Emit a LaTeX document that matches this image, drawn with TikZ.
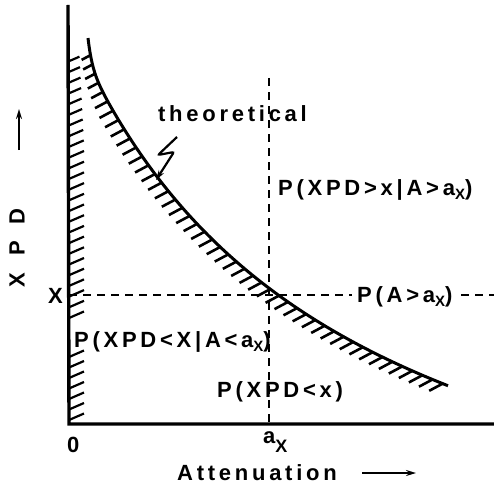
\documentclass[tikz,border=0pt]{standalone}
\usepackage{fontspec}
\setmainfont[LetterSpace=17]{Liberation Sans}
\usetikzlibrary{arrows.meta}
\newcommand{\subX}{\raisebox{-4pt}{\fontsize{15}{15}\selectfont X}}
\pgfmathdeclarefunction{cy}{1}{\pgfmathparse{638.6-1626/((#1+195)/100)-26*exp(max(-(#1-88)/4,-20))}}
\pgfmathdeclarefunction{cs}{1}{\pgfmathparse{16.26/(((#1+195)/100)^2)+6.5*exp(max(-(#1-88)/4,-20))}}
\begin{document}
\begin{tikzpicture}[x=1pt,y=-1pt,
  lbl/.style={inner sep=0pt, font=\fontsize{22}{26}\selectfont\bfseries},
  axisline/.style={line width=3.4pt},
  curveline/.style={line width=3pt},
  hatch/.style={line width=2.6pt},
  axhatch/.style={line width=2.2pt},
  guide/.style={line width=2.2pt, dash pattern=on 8pt off 6pt},
  thinarrow/.style={line width=2.2pt, -{Stealth[length=10pt,width=6pt]}}]
\useasboundingbox (0,0) rectangle (494,484);
% axes
\coordinate (ytop) at (68,5);
\coordinate (o) at (69,424);
\coordinate (xend) at (494,424);
\draw[axisline] (ytop) -- (o) -- (xend);
% hatching on the left axis
\foreach \yy in {420,409.5,399,388.5,378,367.5,357}{
  \draw[axhatch] (69,\yy) -- ++(15,-6.5);
}
\foreach \k in {0,...,24}{
  \pgfmathsetmacro{\yy}{318-\k*10.7}
  \pgfmathsetmacro{\hl}{min(1,0.7+(\yy-62)/300)}
  \draw[axhatch] (69,\yy) -- ++(15*\hl,-6.5*\hl);
}
% guide lines
\coordinate (vtop) at (269,78);
\coordinate (vbot) at (269,424);
\coordinate (hleft) at (69,295);
\coordinate (hright) at (494,295);
\draw[guide] (vtop) -- (vbot);
\draw[guide] (hleft) -- (hright);
% theoretical curve
\draw[curveline, line join=round] plot[domain=88:448, samples=360] (\x,{cy(\x)});
% hatching along the curve
\xdef\hx{90.5}
\foreach \k in {1,...,60}{
  \ifdim\hx pt<449pt
    \pgfmathsetmacro\hy{cy(\hx)}
    \pgfmathsetmacro\hl{min(1,0.65+(\hx-90)/60)}
    \draw[hatch] (\hx,\hy) -- ++(-13.5*\hl,7.2*\hl);
    \pgfmathsetmacro\sl{cs(\hx)}
    \pgfmathsetmacro\nx{\hx+11/sqrt(1+\sl*\sl)}
    \xdef\hx{\nx}
  \fi
}
% labels
\node[lbl, anchor=base west] (theo) at (158,121) {theoretical};
\coordinate (arrowend) at (156,180);
\draw[thinarrow, rounded corners=2pt] (177,137) -- (158,155) -- (174,152) -- (arrowend);
\node[lbl, anchor=base west] (p1) at (278,195) {P(XPD>x|A>a\subX)};
\node[lbl, anchor=base west, fill=white, inner xsep=5pt] (p2) at (352,302) {P(A>a\subX)};
\node[lbl, anchor=base west] (p3) at (74,347) {P(XPD<X|A<a\subX)};
\node[lbl, anchor=base west] (p4) at (217,397) {P(XPD<x)};
\node[lbl, anchor=base west] (xl) at (48,303) {X};
\node[lbl, anchor=base west] (zero) at (67,452) {0};
\node[lbl, anchor=base west] (ax) at (263,443) {a\raisebox{-9pt}{\fontsize{18}{18}\selectfont X}};
\node[lbl, anchor=base west] (att) at (177,480) {Attenuation};
\node[lbl, rotate=90] (xpd) at (17,248) {X\hspace{17pt}P\hspace{17pt}D};
\coordinate (ya0) at (19,150);
\coordinate (ya1) at (19,109);
\draw[thinarrow] (ya0) -- (ya1);
\coordinate (xa0) at (362,473);
\coordinate (xa1) at (416,473);
\draw[thinarrow] (xa0) -- (xa1);
\end{tikzpicture}
\end{document}
